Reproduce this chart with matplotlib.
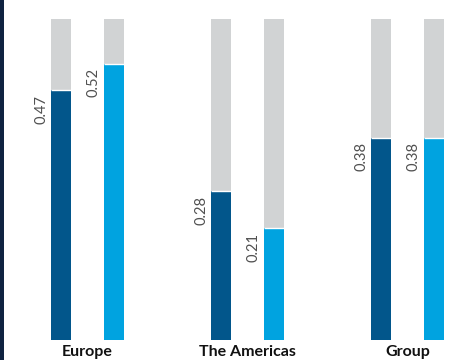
import matplotlib
matplotlib.use("Agg")
import matplotlib.pyplot as plt
from matplotlib.patches import Rectangle

categories = ["Europe", "The Americas", "Group"]
series_a = [0.47, 0.28, 0.38]
series_b = [0.52, 0.21, 0.38]
background_max = 0.605

dark = "#02568b"
light = "#00a3e0"
gray = "#d1d3d4"

fig = plt.figure(figsize=(4.68, 3.6), dpi=100)
fig.patch.set_facecolor("white")
ax = fig.add_axes([0, 20 / 360, 1, 340 / 360])
ax.set_xlim(-87.5 / 160, -87.5 / 160 + 468 / 160)
ax.set_ylim(0, 340 / 531)
ax.axis("off")

off = 26.5 / 160
w = 20 / 160
xs = range(len(categories))
for i in xs:
    for dx, vals, col in ((-off, series_a, dark), (off, series_b, light)):
        x = i + dx
        v = vals[i]
        ax.bar(x, background_max, width=w, color=gray, linewidth=0)
        ax.bar(x, v, width=w, color=col, linewidth=0)
        ax.plot([x - w / 2, x + w / 2], [v, v], color="white", lw=1.0, solid_capstyle="butt")
        ax.text(x - w / 2 - 3 / 160, v - 0.008, f"{v:.2f}", rotation=90,
                ha="right", va="top", fontsize=10.5, color="#505050",
                family="Lato", fontweight="normal")
    ax.text(i, -12 / 531, categories[i], ha="center", va="center",
            fontsize=11.5, fontweight="bold", family="Lato", color="#111111",
            clip_on=False)

fig.patches.append(Rectangle((0, 0), 3.5 / 468, 1, transform=fig.transFigure,
                             facecolor="#0f2341", edgecolor="none", zorder=10))
fig.savefig("out.png", dpi=100)
